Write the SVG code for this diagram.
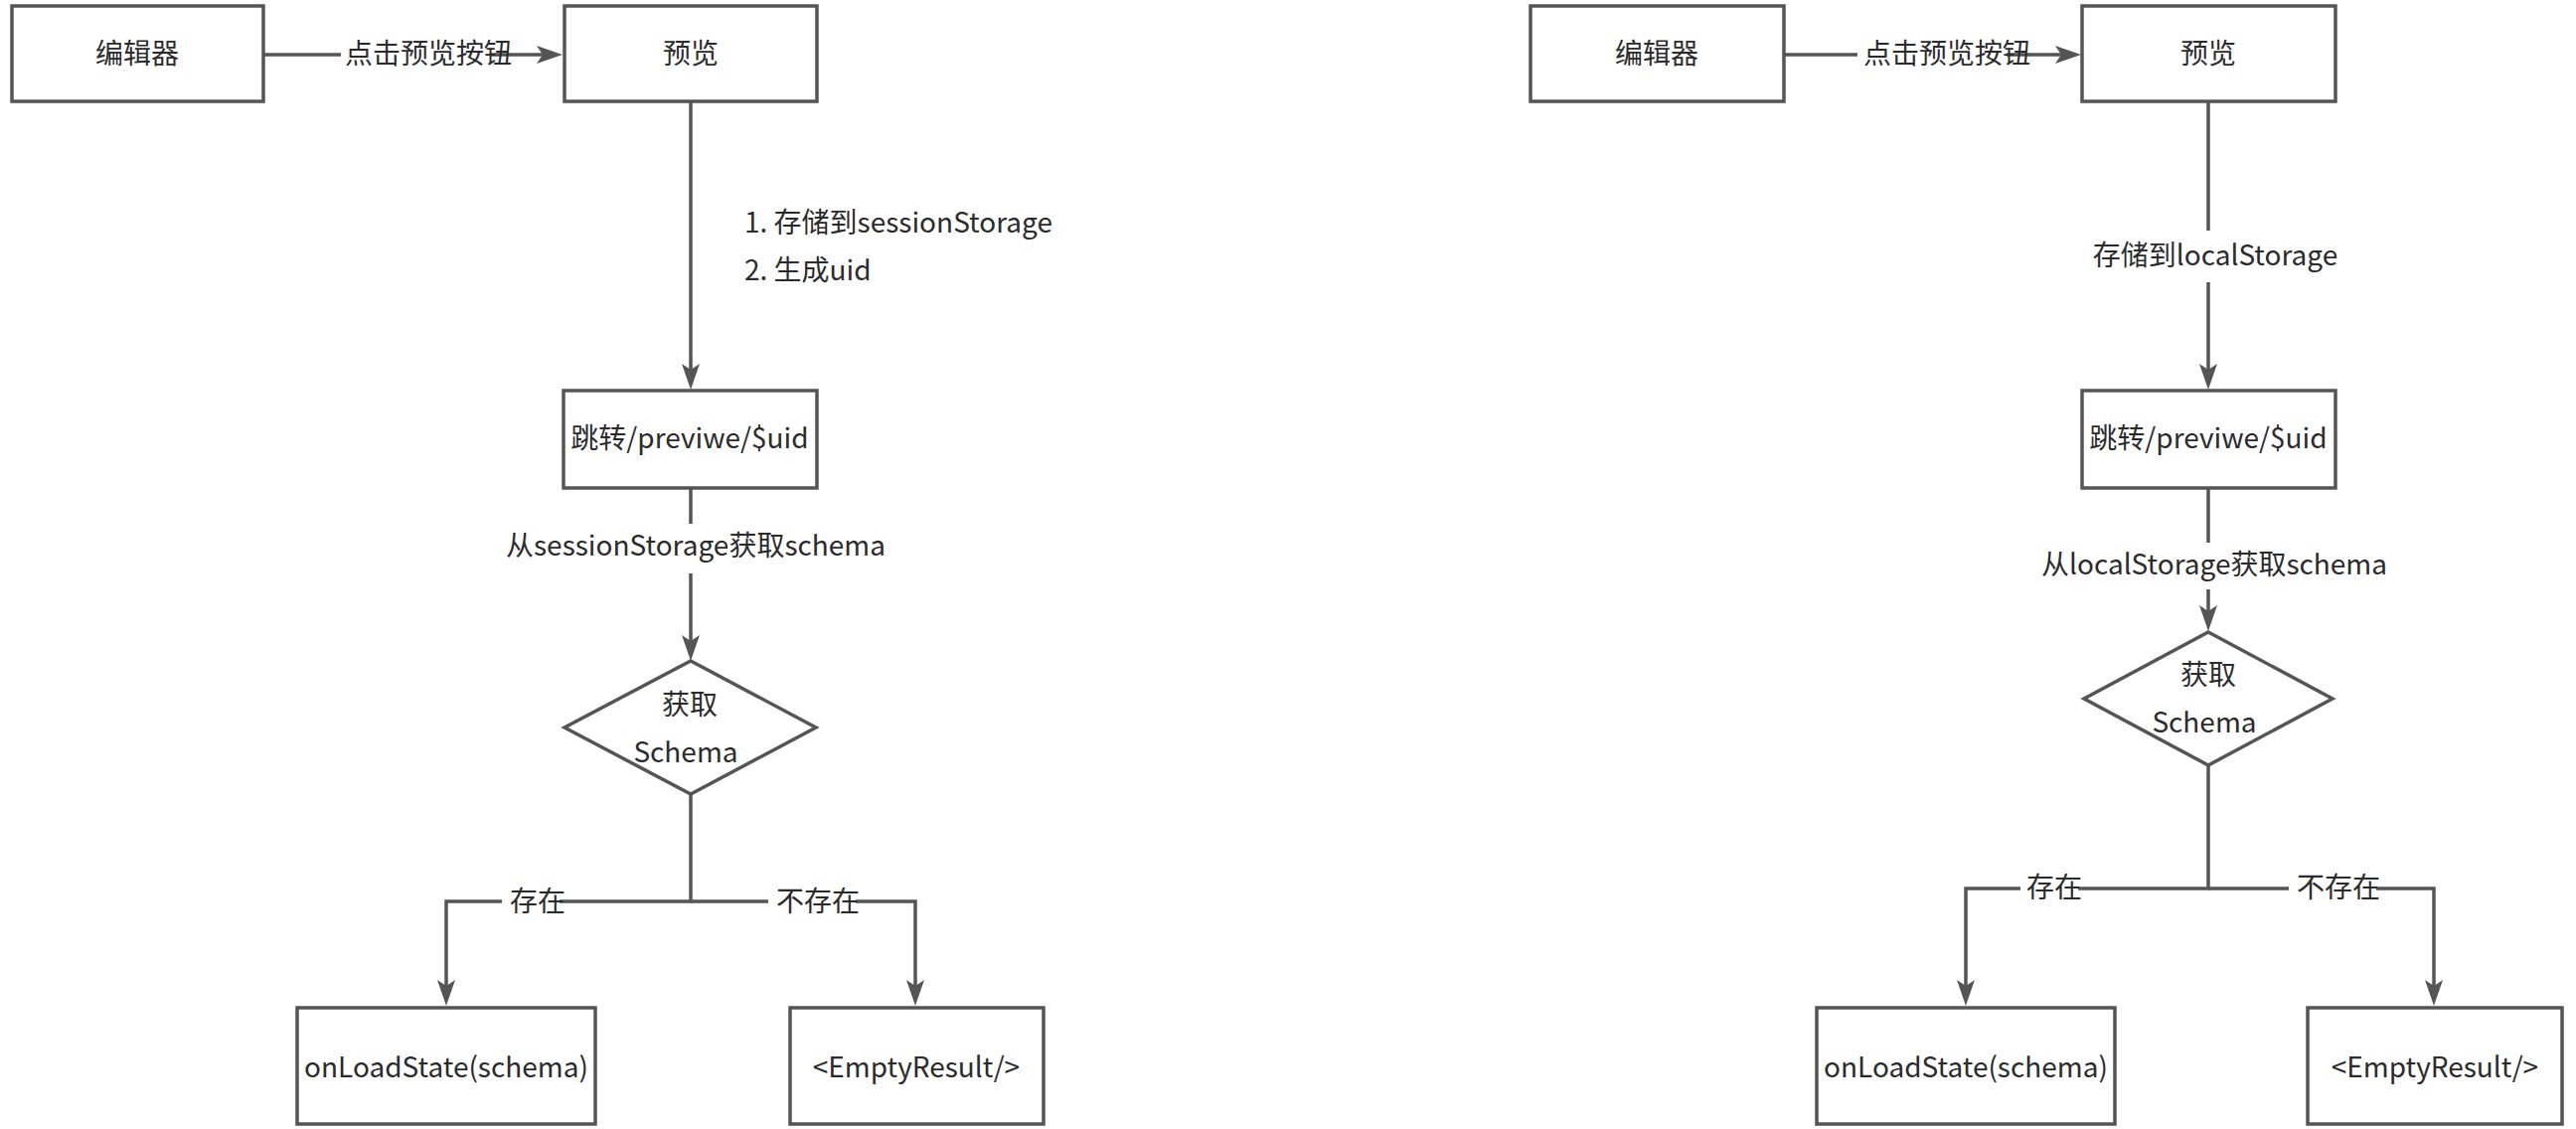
<svg xmlns="http://www.w3.org/2000/svg" width="2592" height="1136" viewBox="0 0 2592 1136">
  <style>
    .box { fill: #ffffff; stroke: #555555; stroke-width: 3.5; }
    .conn { fill: none; stroke: #555555; stroke-width: 3.5; }
    .t { font-family: "Noto Sans CJK SC", "Liberation Sans", sans-serif; font-size: 28px; fill: #2b2b2b; text-anchor: middle; dominant-baseline: central; transform: translateY(-3px); }
    .ts { text-anchor: start; }
    .bg { fill: #ffffff; stroke: none; }
  </style>
  <defs>
    <marker id="arr" markerUnits="userSpaceOnUse" markerWidth="28" markerHeight="20" refX="20" refY="10" orient="auto">
      <path d="M0,1 L26,10 L0,19 L6,10 Z" fill="#555555"/>
    </marker>
  </defs>
  <rect width="2592" height="1136" fill="#ffffff"/>

  <g id="connectors">
    <!-- left diagram -->
    <path class="conn" d="M266,55 H560" marker-end="url(#arr)"/>
    <path class="conn" d="M695,102 V386" marker-end="url(#arr)"/>
    <path class="conn" d="M695,491 V659" marker-end="url(#arr)"/>
    <path class="conn" d="M695,799 V907 H449 V1006" marker-end="url(#arr)"/>
    <path class="conn" d="M695,907 H921 V1006" marker-end="url(#arr)"/>
    <!-- right diagram -->
    <path class="conn" d="M1795,55 H2088" marker-end="url(#arr)"/>
    <path class="conn" d="M2222,102 V386" marker-end="url(#arr)"/>
    <path class="conn" d="M2222,491 V629" marker-end="url(#arr)"/>
    <path class="conn" d="M2222,770 V894 H1978 V1006" marker-end="url(#arr)"/>
    <path class="conn" d="M2222,894 H2449 V1006" marker-end="url(#arr)"/>

    <!-- connector labels -->
    <g id="lbl-click-l">
      <rect class="bg" x="343" y="40" width="150" height="30"/>
      <text class="t" x="431" y="55">点击预览按钮</text>
    </g>
    <g id="lbl-store-l">
      <text class="t ts" x="749" y="225">1. 存储到sessionStorage</text>
      <text class="t ts" x="749" y="273">2. 生成uid</text>
    </g>
    <g id="lbl-get-l">
      <rect class="bg" x="510" y="527" width="380" height="50"/>
      <text class="t" x="700" y="550">从sessionStorage获取schema</text>
    </g>
    <g id="lbl-yes-l">
      <rect class="bg" x="505" y="893" width="58" height="30"/>
      <text class="t" x="541" y="908">存在</text>
    </g>
    <g id="lbl-no-l">
      <rect class="bg" x="773" y="893" width="88" height="30"/>
      <text class="t" x="823" y="908">不存在</text>
    </g>

    <g id="lbl-click-r">
      <rect class="bg" x="1869" y="40" width="150" height="30"/>
      <text class="t" x="1959" y="55">点击预览按钮</text>
    </g>
    <g id="lbl-store-r">
      <rect class="bg" x="2105" y="232" width="248" height="52"/>
      <text class="t" x="2229" y="258">存储到localStorage</text>
    </g>
    <g id="lbl-get-r">
      <rect class="bg" x="2055" y="546" width="346" height="47"/>
      <text class="t" x="2228" y="569">从localStorage获取schema</text>
    </g>
    <g id="lbl-yes-r">
      <rect class="bg" x="2033" y="879" width="58" height="30"/>
      <text class="t" x="2067" y="894">存在</text>
    </g>
    <g id="lbl-no-r">
      <rect class="bg" x="2303" y="879" width="88" height="30"/>
      <text class="t" x="2353" y="894">不存在</text>
    </g>
  </g>

  <!-- left diagram nodes -->
  <g id="editor-l">
    <rect class="box" x="12" y="6" width="253" height="96"/>
    <text class="t" x="138" y="55">编辑器</text>
  </g>
  <g id="preview-l">
    <rect class="box" x="568" y="6" width="254" height="96"/>
    <text class="t" x="695" y="55">预览</text>
  </g>
  <g id="jump-l">
    <rect class="box" x="567" y="393" width="255" height="98"/>
    <text class="t" x="694" y="442">跳转/previwe/$uid</text>
  </g>
  <g id="decision-l">
    <polygon class="box" points="695,665 821,732 695,799 568,732"/>
    <text class="t" x="694" y="710">获取</text>
    <text class="t" x="690" y="758">Schema</text>
  </g>
  <g id="load-l">
    <rect class="box" x="299" y="1014" width="300" height="117"/>
    <text class="t" x="449" y="1075">onLoadState(schema)</text>
  </g>
  <g id="empty-l">
    <rect class="box" x="795" y="1014" width="255" height="117"/>
    <text class="t" x="922" y="1075">&lt;EmptyResult/&gt;</text>
  </g>

  <!-- right diagram nodes -->
  <g id="editor-r">
    <rect class="box" x="1540" y="6" width="255" height="96"/>
    <text class="t" x="1667" y="55">编辑器</text>
  </g>
  <g id="preview-r">
    <rect class="box" x="2095" y="6" width="255" height="96"/>
    <text class="t" x="2222" y="55">预览</text>
  </g>
  <g id="jump-r">
    <rect class="box" x="2095" y="393" width="255" height="98"/>
    <text class="t" x="2222" y="442">跳转/previwe/$uid</text>
  </g>
  <g id="decision-r">
    <polygon class="box" points="2222,636 2347,703 2222,770 2097,703"/>
    <text class="t" x="2222" y="680">获取</text>
    <text class="t" x="2218" y="728">Schema</text>
  </g>
  <g id="load-r">
    <rect class="box" x="1828" y="1014" width="300" height="117"/>
    <text class="t" x="1978" y="1075">onLoadState(schema)</text>
  </g>
  <g id="empty-r">
    <rect class="box" x="2322" y="1014" width="256" height="117"/>
    <text class="t" x="2450" y="1075">&lt;EmptyResult/&gt;</text>
  </g>
</svg>
